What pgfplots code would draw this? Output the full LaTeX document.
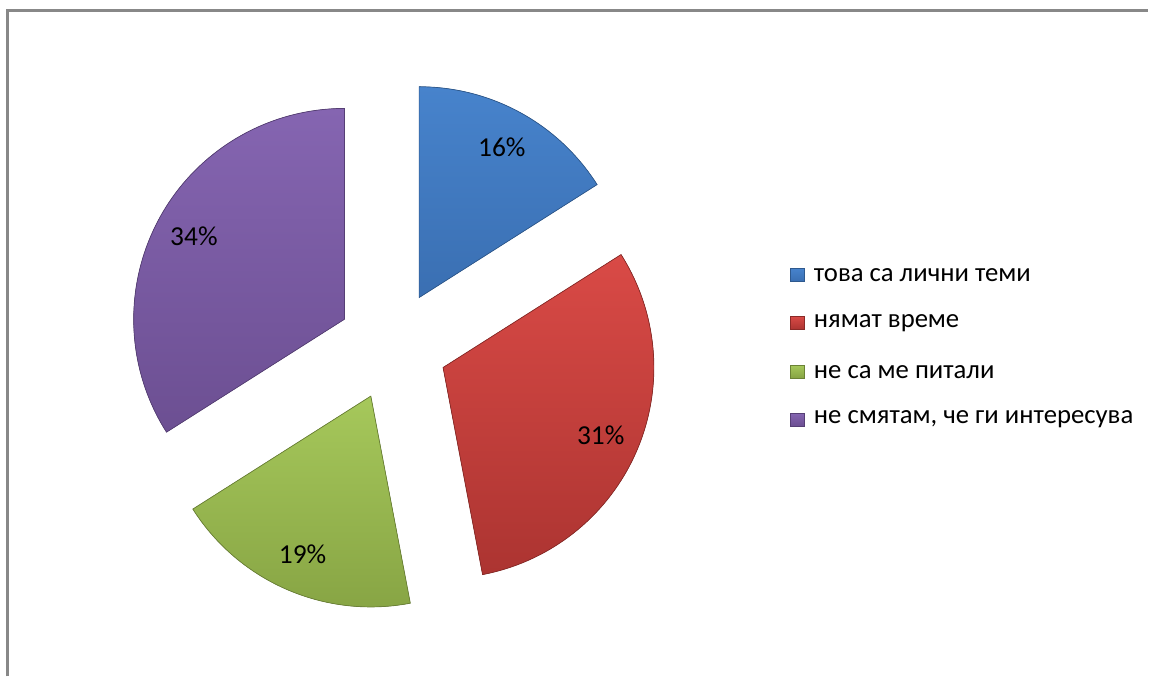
\documentclass[border=0pt]{standalone}
\usepackage{pgfplots}
\pgfplotsset{compat=1.18}
\usepackage{fontspec}
\setmainfont{Carlito}

% slice colours, light at the top, dark at the bottom
\definecolor{bluetop}{HTML}{4783CC}
\definecolor{bluebot}{HTML}{3A6FB2}
\definecolor{redtop}{HTML}{D94A46}
\definecolor{redbot}{HTML}{AC3431}
\definecolor{greentop}{HTML}{A6C85B}
\definecolor{greenbot}{HTML}{86A343}
\definecolor{purpletop}{HTML}{8565B1}
\definecolor{purplebot}{HTML}{6C4F92}
\definecolor{frame}{HTML}{888888}

\begin{document}
\begin{tikzpicture}
\begin{axis}[
  hide axis, scale only axis,
  width=11.49cm, height=6.77cm,
  xmin=0, xmax=1149, ymin=0, ymax=677,
  clip=false,
]
% keep the whole canvas in the bounding box
\path (axis cs:0,0) rectangle (axis cs:1149,677);
% chart frame (top and left edge only)
\addplot[draw=frame, line width=0.6pt] coordinates {(7.5,0) (7.5,666.5) (1149,666.5)};

% exploded pie: share in %, colour
\def\cx{393}\def\cy{331}\def\rad{2.11cm}
\gdef\cum{0}
\foreach \v/\c in {16/blue,31/red,19/green,34/purple} {
  \pgfmathsetmacro\a{\cum*3.6}
  \pgfmathsetmacro\b{(\cum+\v)*3.6}
  \pgfmathsetmacro\m{(\a+\b)/2}
  \pgfmathsetmacro\px{\cx+55*sin(\m)}
  \pgfmathsetmacro\py{\cy+55*cos(\m)}
  \pgfmathsetmacro\lx{\cx+227*sin(\m)}
  \pgfmathsetmacro\ly{\cy+227*cos(\m)}
  \pgfmathsetmacro\sa{90-\a}
  \pgfmathsetmacro\sb{90-\b}
  \edef\temp{%
    \noexpand\fill[top color=\c top, bottom color=\c bot, draw=\c bot!80!black, line width=0.2pt]
      (axis cs:\px,\py) -- ++(\sa:\rad) arc[start angle=\sa, end angle=\sb, radius=\rad] -- cycle;
    \noexpand\node[font=\noexpand\fontsize{7.8}{9}\noexpand\selectfont, text=black]
      at (axis cs:\lx,\ly) {\v\noexpand\%};
  }
  \temp
  \pgfmathsetmacro\n{\cum+\v}
  \xdef\cum{\n}
}

% legend
\foreach \y/\c/\t in {402/blue/това са лични теми,354/red/нямат време,305/green/не са ме питали,257/purple/{не смятам, че ги интересува}} {
  \pgfmathsetmacro\ya{\y-6.5}
  \pgfmathsetmacro\yb{\y+6.5}
  \edef\temp{%
    \noexpand\fill[top color=\c top, bottom color=\c bot, draw=\c bot!80!black, line width=0.2pt]
      (axis cs:791,\ya) rectangle (axis cs:805,\yb);
    \noexpand\node[anchor=west, font=\noexpand\fontsize{7.6}{9}\noexpand\selectfont, inner sep=0pt]
      at (axis cs:814,\y) {\t};
  }
  \temp
}
\end{axis}
\end{tikzpicture}
\end{document}
